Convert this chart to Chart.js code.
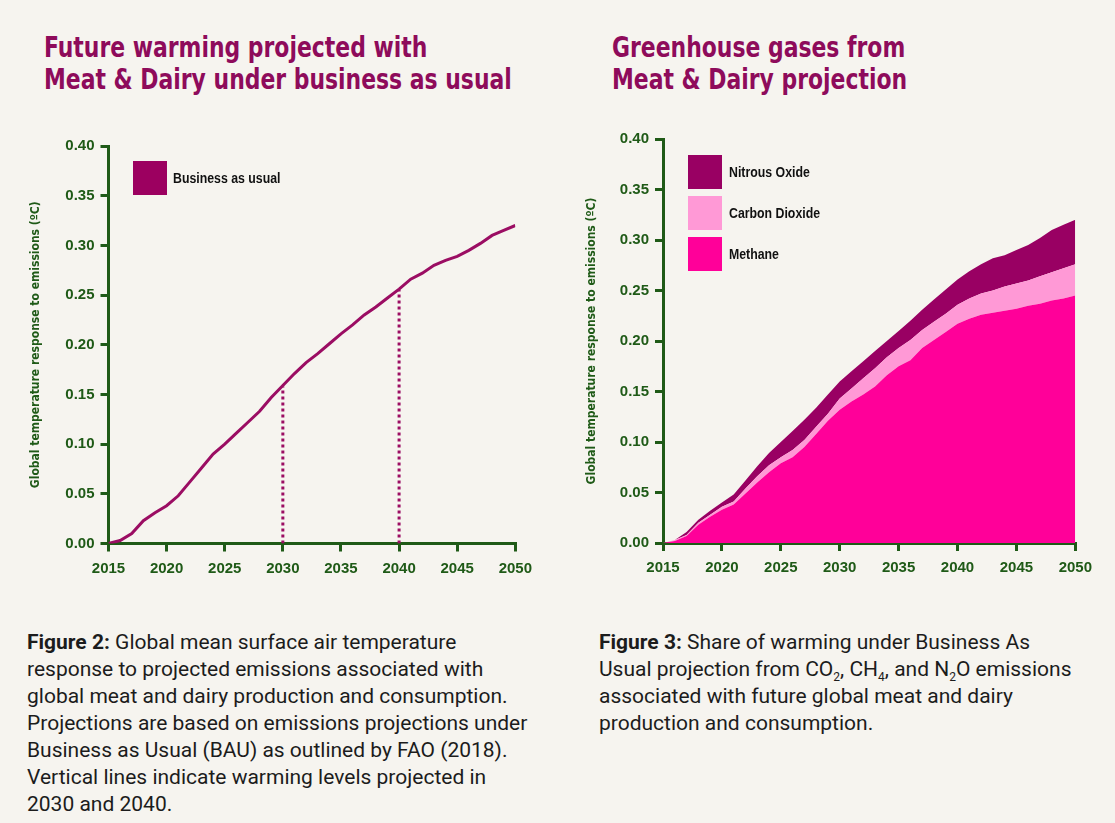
<!DOCTYPE html>
<html>
<head>
<meta charset="utf-8">
<script src="https://cdn.jsdelivr.net/npm/chart.js@4.4.1/dist/chart.umd.min.js"></script>
<style>
  body { margin: 0; background: #f6f4ef; }
  #page { position: relative; width: 1115px; height: 823px; overflow: hidden; background: #f6f4ef; }
  .title { position: absolute; font-family: "DejaVu Sans Condensed", "DejaVu Sans", sans-serif; font-weight: bold;
           font-size: 28px; line-height: 32px; color: #8e0b5b; white-space: nowrap;
           transform-origin: 0 0; transform: scaleX(0.87); }
  canvas { position: absolute; }
  .legend { position: absolute; font-family: "Liberation Sans", Arial, sans-serif; font-weight: bold; font-size: 14px; color: #111; }
  .legend .sw { position: absolute; width: 34px; height: 34px; }
  .legend .lb { position: absolute; white-space: nowrap; line-height: 16px; transform-origin: 0 50%; transform: scaleX(0.88); }
  .caption { position: absolute; font-family: Roboto, "Noto Sans", sans-serif; font-size: 21px; line-height: 27px; color: #1c1c1c; white-space: nowrap; }
  .caption b { font-weight: bold; }
  .caption sub { font-size: 12px; vertical-align: -5px; line-height: 0; }
</style>
</head>
<body>
<div id="page">
  <div class="title" style="left:44px; top:32px;">Future warming projected with<br>Meat &amp; Dairy under business as usual</div>
  <div class="title" style="left:612px; top:32px;">Greenhouse gases from<br>Meat &amp; Dairy projection</div>

  <canvas id="warmChart" width="540" height="470" style="left:0px; top:120px;"></canvas>
  <canvas id="gasChart" width="544" height="470" style="left:556px; top:120px;"></canvas>

  <div class="legend">
    <div class="sw" style="left:133px; top:161px; background:#9c0060;"></div>
    <div class="lb" style="left:173px; top:170px;">Business as usual</div>

    <div class="sw" style="left:688px; top:155px; background:#990063;"></div>
    <div class="lb" style="left:729px; top:164px;">Nitrous Oxide</div>
    <div class="sw" style="left:688px; top:196px; background:#ff99d6;"></div>
    <div class="lb" style="left:729px; top:205px;">Carbon Dioxide</div>
    <div class="sw" style="left:688px; top:237px; background:#ff0099;"></div>
    <div class="lb" style="left:729px; top:246px;">Methane</div>
  </div>

  <div class="caption" style="left:27px; top:629px;"><b>Figure 2:</b> Global mean surface air temperature<br>response to projected emissions associated with<br>global meat and dairy production and consumption.<br>Projections are based on emissions projections under<br>Business as Usual (BAU) as outlined by FAO (2018).<br>Vertical lines indicate warming levels projected in<br>2030 and 2040.</div>
  <div class="caption" style="left:599px; top:629px;"><b>Figure 3:</b> Share of warming under Business As<br>Usual projection from CO<sub>2</sub>, CH<sub>4</sub>, and N<sub>2</sub>O emissions<br>associated with future global meat and dairy<br>production and consumption.</div>
</div>

<script>
// years on the x axis
const years = [2015, 2016, 2017, 2018, 2019, 2020, 2021, 2022, 2023, 2024, 2025, 2026,
               2027, 2028, 2029, 2030, 2031, 2032, 2033, 2034, 2035, 2036, 2037, 2038,
               2039, 2040, 2041, 2042, 2043, 2044, 2045, 2046, 2047, 2048, 2049, 2050];

// Figure 2: business as usual warming (degC)
const bauWarming = [0, 0.003, 0.010, 0.023, 0.031, 0.038, 0.048, 0.062, 0.076, 0.090, 0.100, 0.111,
                    0.122, 0.133, 0.147, 0.159, 0.171, 0.182, 0.191, 0.201, 0.211, 0.220, 0.230, 0.238,
                    0.247, 0.256, 0.266, 0.272, 0.280, 0.285, 0.289, 0.295, 0.302, 0.310, 0.315, 0.320];

// vertical markers
const markerYears = [2030, 2040];
const markerLevels = [0.158, 0.255];

// Figure 3: stacked contributions (degC)
const methane = [0, 0.002, 0.007, 0.018, 0.026, 0.033, 0.038, 0.049, 0.060, 0.070, 0.079, 0.085,
                 0.095, 0.108, 0.121, 0.132, 0.140, 0.147, 0.155, 0.166, 0.175, 0.181, 0.193, 0.201,
                 0.209, 0.217, 0.222, 0.226, 0.228, 0.230, 0.232, 0.235, 0.237, 0.240, 0.242, 0.245];
const carbonDioxide = [0, 0.001, 0.001, 0.002, 0.002, 0.003, 0.003, 0.005, 0.006, 0.007, 0.006, 0.007,
                       0.007, 0.007, 0.007, 0.011, 0.013, 0.016, 0.018, 0.018, 0.018, 0.020, 0.018, 0.018,
                       0.018, 0.019, 0.020, 0.021, 0.022, 0.024, 0.025, 0.025, 0.027, 0.028, 0.030, 0.031];
const nitrousOxide = [0, 0, 0.003, 0.003, 0.004, 0.004, 0.007, 0.008, 0.010, 0.012, 0.015, 0.019,
                      0.020, 0.019, 0.019, 0.017, 0.017, 0.017, 0.017, 0.016, 0.017, 0.019, 0.020, 0.022,
                      0.024, 0.025, 0.027, 0.029, 0.032, 0.031, 0.033, 0.035, 0.038, 0.042, 0.043, 0.044];

const yTicks = ["0.00", "0.05", "0.10", "0.15", "0.20", "0.25", "0.30", "0.35", "0.40"];
const xTicks = ["2015", "2020", "2025", "2030", "2035", "2040", "2045", "2050"];
const yTitle = "Global temperature response to emissions (\u00baC)";

const GREEN = "#1f5a17";
const tickFont = { family: "'Liberation Sans', Arial, sans-serif", weight: "bold", size: 15 };

function pts(vals) {
  return years.map((yr, i) => ({ x: yr, y: vals[i] }));
}

function axes(yWidth, xHeight, stacked) {
  return {
    x: {
      type: "linear", min: 2015, max: 2050,
      afterFit: s => { s.height = xHeight; },
      afterBuildTicks: s => { s.ticks = xTicks.map(t => ({ value: Number(t) })); },
      ticks: { color: GREEN, font: tickFont, padding: 8, maxRotation: 0,
               callback: v => String(v) },
      grid: { drawOnChartArea: false, drawTicks: true, tickLength: 8, color: GREEN, lineWidth: 3 },
      border: { color: GREEN, width: 3 }
    },
    y: {
      min: 0, max: 0.4, stacked: stacked,
      afterFit: s => { s.width = yWidth; },
      afterBuildTicks: s => { s.ticks = yTicks.map(t => ({ value: Number(t) })); },
      ticks: { color: GREEN, font: tickFont, padding: 6,
               callback: v => v.toFixed(2) },
      grid: { drawOnChartArea: false, drawTicks: true, tickLength: 8, color: GREEN, lineWidth: 3 },
      border: { color: GREEN, width: 3 },
      title: { display: true, text: yTitle, color: GREEN,
               font: { family: "'DejaVu Sans Condensed', sans-serif", weight: "bold", size: 12 },
               padding: { top: 29, bottom: 0 } }
    }
  };
}

const common = {
  responsive: false,
  devicePixelRatio: 1,
  animation: false,
  plugins: { legend: { display: false }, tooltip: { enabled: false } },
  elements: { point: { radius: 0 }, line: { tension: 0 } }
};

new Chart(document.getElementById("warmChart"), {
  type: "line",
  data: {
    datasets: [
      { label: "Business as usual", data: pts(bauWarming), borderColor: "#9b0d63", borderWidth: 3, fill: false },
      { label: "2030", data: [{ x: markerYears[0], y: 0 }, { x: markerYears[0], y: markerLevels[0] }],
        borderColor: "#9b0d63", borderWidth: 3, borderDash: [3, 3], fill: false },
      { label: "2040", data: [{ x: markerYears[1], y: 0 }, { x: markerYears[1], y: markerLevels[1] }],
        borderColor: "#9b0d63", borderWidth: 3, borderDash: [3, 3], fill: false }
    ]
  },
  options: Object.assign({}, common, {
    layout: { padding: { left: 0, right: 23, top: 26, bottom: 0 } },
    scales: axes(108.5, 46.5, false)
  })
});

new Chart(document.getElementById("gasChart"), {
  type: "line",
  data: {
    datasets: [
      { label: "Methane", data: pts(methane), borderWidth: 0, borderColor: "#ff0099",
        backgroundColor: "#ff0099", fill: "origin" },
      { label: "Carbon Dioxide", data: pts(carbonDioxide), borderWidth: 0, borderColor: "#ff99d6",
        backgroundColor: "#ff99d6", fill: "-1" },
      { label: "Nitrous Oxide", data: pts(nitrousOxide), borderWidth: 0, borderColor: "#990063",
        backgroundColor: "#990063", fill: "-1" }
    ]
  },
  options: Object.assign({}, common, {
    layout: { padding: { left: 0, right: 23, top: 19, bottom: 0 } },
    scales: axes(107, 47, true)
  })
});
</script>
</body>
</html>
